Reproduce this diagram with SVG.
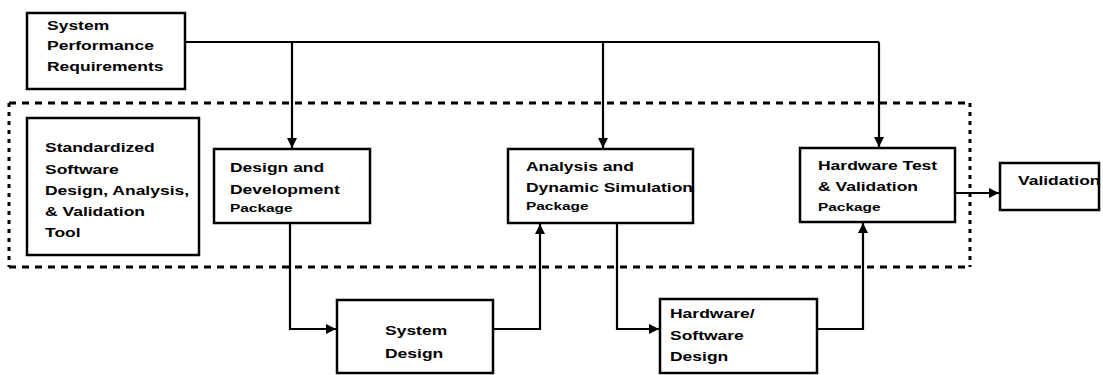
<svg xmlns="http://www.w3.org/2000/svg" width="1103" height="375" viewBox="0 0 1103 375">
<defs>
<style>
.box{fill:#fff;stroke:#000;stroke-width:2.5}
.ln{fill:none;stroke:#000;stroke-width:2.2}
.dh{fill:none;stroke:#000;stroke-width:3;stroke-dasharray:7 6}
.dv{fill:none;stroke:#000;stroke-width:3;stroke-dasharray:4 5}
.t{font-family:"Liberation Sans",Arial,sans-serif;font-weight:bold;font-size:12.5px;fill:#000}
.s{font-size:11px}
</style>
<marker id="arr" viewBox="0 0 10 10" refX="10" refY="5" markerWidth="11" markerHeight="10" markerUnits="userSpaceOnUse" orient="auto">
<path d="M0,0 L10,5 L0,10 z" fill="#000"/>
</marker>
</defs>
<rect width="1103" height="375" fill="#fff"/>
<g id="toolset-boundary">
<line class="dh" x1="9" y1="103" x2="970" y2="103"/>
<line class="dh" x1="9" y1="267" x2="970" y2="267"/>
<line class="dv" x1="9" y1="103" x2="9" y2="267"/>
<line class="dv" x1="970" y1="103" x2="970" y2="267"/>
</g>
<g id="connectors">
<path class="ln" d="M185,42 H879"/>
<path class="ln" d="M292,42 V148" marker-end="url(#arr)"/>
<path class="ln" d="M603,42 V148" marker-end="url(#arr)"/>
<path class="ln" d="M879,42 V147" marker-end="url(#arr)"/>
<path class="ln" d="M290,223 V329 H336" marker-end="url(#arr)"/>
<path class="ln" d="M493,329 H540 V224" marker-end="url(#arr)"/>
<path class="ln" d="M617,223 V329 H659" marker-end="url(#arr)"/>
<path class="ln" d="M817,329 H863 V223" marker-end="url(#arr)"/>
<path class="ln" d="M955,193 H999" marker-end="url(#arr)"/>
</g>
<g id="spr">
<rect class="box" x="27" y="13" width="158" height="76"/>
<text class="t" transform="translate(47,29.5) scale(1.4 1)"><tspan x="0" y="0">System</tspan><tspan x="0" y="21">Performance</tspan><tspan x="0" y="41.5">Requirements</tspan></text>
</g>
<g id="standardized-tool">
<rect class="box" x="27" y="118" width="172" height="137"/>
<text class="t" transform="translate(45,152) scale(1.4 1)"><tspan x="0" y="0">Standardized</tspan><tspan x="0" y="22">Software</tspan><tspan x="0" y="43">Design, Analysis,</tspan><tspan x="0" y="64">&amp; Validation</tspan><tspan x="0" y="85">Tool</tspan></text>
</g>
<g id="design-dev">
<rect class="box" x="214" y="149" width="156" height="74"/>
<text class="t" transform="translate(230,172) scale(1.4 1)"><tspan x="0" y="0">Design and</tspan><tspan x="0" y="22">Development</tspan><tspan class="s" x="0" y="40">Package</tspan></text>
</g>
<g id="analysis-sim">
<rect class="box" x="508" y="149" width="185" height="74"/>
<text class="t" transform="translate(526,171) scale(1.4 1)"><tspan x="0" y="0">Analysis and</tspan><tspan x="0" y="21">Dynamic Simulation</tspan><tspan class="s" x="0" y="39">Package</tspan></text>
</g>
<g id="hw-test">
<rect class="box" x="800" y="148" width="155" height="74"/>
<text class="t" transform="translate(818,170) scale(1.4 1)"><tspan x="0" y="0">Hardware Test</tspan><tspan x="0" y="21">&amp; Validation</tspan><tspan class="s" x="0" y="41">Package</tspan></text>
</g>
<g id="validation">
<rect class="box" x="1000" y="163" width="99" height="47"/>
<text class="t" transform="translate(1018,185) scale(1.4 1)">Validation</text>
</g>
<g id="system-design">
<rect class="box" x="337" y="300" width="156" height="73"/>
<text class="t" transform="translate(385,335) scale(1.4 1)"><tspan x="0" y="0">System</tspan><tspan x="0" y="23">Design</tspan></text>
</g>
<g id="hw-sw-design">
<rect class="box" x="660" y="299" width="157" height="74"/>
<text class="t" transform="translate(670,318) scale(1.4 1)"><tspan x="0" y="0">Hardware/</tspan><tspan x="0" y="22">Software</tspan><tspan x="0" y="43">Design</tspan></text>
</g>
</svg>
